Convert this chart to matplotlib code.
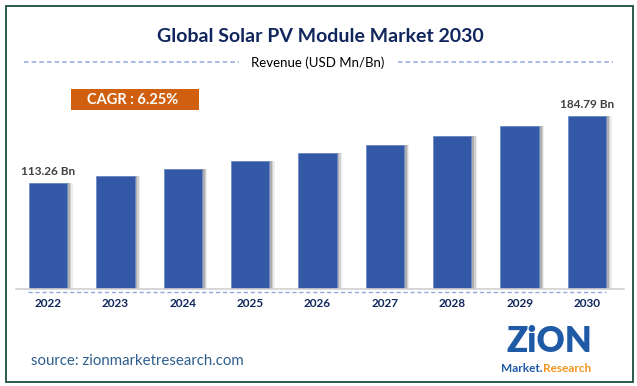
"""
Global Solar PV Module Market 2030 - revenue bar chart.
"""
import numpy as np
import matplotlib
matplotlib.use('Agg')
import matplotlib.pyplot as plt
from matplotlib.patches import Rectangle
from matplotlib.lines import Line2D

years = ['2022', '2023', '2024', '2025', '2026', '2027', '2028', '2029', '2030']
revenue = [113.26, 120.7, 128.2, 136.4, 144.6, 153.1, 163.0, 173.7, 184.79]
label_first = '113.26 Bn'
label_last = '184.79 Bn'
title = 'Global Solar PV Module Market 2030'
subtitle = 'Revenue (USD Mn/Bn)'
cagr = 'CAGR : 6.25%'
source = 'source: zionmarketresearch.com'

W, H = 637, 386
plt.rcParams['font.family'] = ['Lato', 'DejaVu Sans']

fig = plt.figure(figsize=(W / 100, H / 100), dpi=100)

def fx(x):
    return x / W

def fy(y):
    return 1 - y / H

# outer border
fig.add_artist(Rectangle((fx(6.5), fy(381.5)), fx(626.5), (375.5) / H, transform=fig.transFigure,
                         fill=False, edgecolor='#1d4d3a', linewidth=1.3))

navy = '#10265c'
fig.text(fx(320), fy(37), title, ha='center', va='center', fontsize=14,
         fontweight='bold', color=navy)
fig.text(fx(318), fy(63), subtitle, ha='center', va='center', fontsize=9.5,
         color='#000000')
dash = dict(transform=fig.transFigure, color='#8fa9dc', linewidth=1.1, linestyle=(0, (3, 2)))
fig.add_artist(Line2D([fx(24), fx(239)], [fy(62), fy(62)], **dash))
fig.add_artist(Line2D([fx(398), fx(613)], [fy(62), fy(62)], **dash))

# CAGR box
fig.add_artist(Rectangle((fx(71), fy(110)), fx(128), 21 / H, transform=fig.transFigure,
                         facecolor='#d0600f', edgecolor='none'))
fig.text(fx(133), fy(99.5), cagr, ha='center', va='center', fontsize=10.5,
         fontweight='bold', color='white')

# bar chart
ax = fig.add_axes([14.3 / W, (H - 289) / H, 606.4 / W, 189 / H])
x = np.arange(len(years))
bw = 0.57
# soft shadow to the right of each bar
for k, a in enumerate([0.10, 0.18, 0.28]):
    ax.bar(x + 0.02 + 0.02 * (3 - k), revenue, width=bw, color='#555555', alpha=a,
           linewidth=0, zorder=1)
ax.bar(x, revenue, width=bw, color='#3358a5', edgecolor='#6d8cc8', linewidth=0.6, zorder=3)
ax.set_xlim(-0.5, len(years) - 0.5)
ax.set_ylim(0, 201.5)
ax.axis('off')
ax.plot([-0.48, len(years) - 0.5 + 0.05], [0, 0], color='#d0d0d0', linewidth=1.2,
        clip_on=False, zorder=4)
ax.plot([-0.3, len(years) - 0.72], [-3.5, -3.5], color='#8fa9dc', linewidth=1.0,
        linestyle=(0, (3, 2)), clip_on=False)
for xi, yr in zip(x, years):
    ax.text(xi, -15, yr, ha='center', va='center', fontsize=8.5, fontweight='bold',
            color=navy)
ax.text(x[0], revenue[0] + 12, label_first, ha='center', va='center', fontsize=8.5,
        fontweight='bold', color='#404040')
ax.text(x[-1], revenue[-1] + 12, label_last, ha='center', va='center', fontsize=8.5,
        fontweight='bold', color='#404040')

fig.text(fx(31), fy(361), source, ha='left', va='center', fontsize=10.8, color='#2f5f8f')

# logo
fig.text(fx(549), fy(342), 'ZiON', ha='center', va='center', fontsize=25,
         fontweight='heavy', color='#1f5aa6')
fig.text(fx(542), fy(369), 'Market.', ha='right', va='center', fontsize=8.5,
         fontweight='bold', color='#1f5aa6')
fig.text(fx(543), fy(369), 'Research', ha='left', va='center', fontsize=8.5,
         fontweight='bold', color='#f0961e')

fig.savefig('out.png', dpi=100)
